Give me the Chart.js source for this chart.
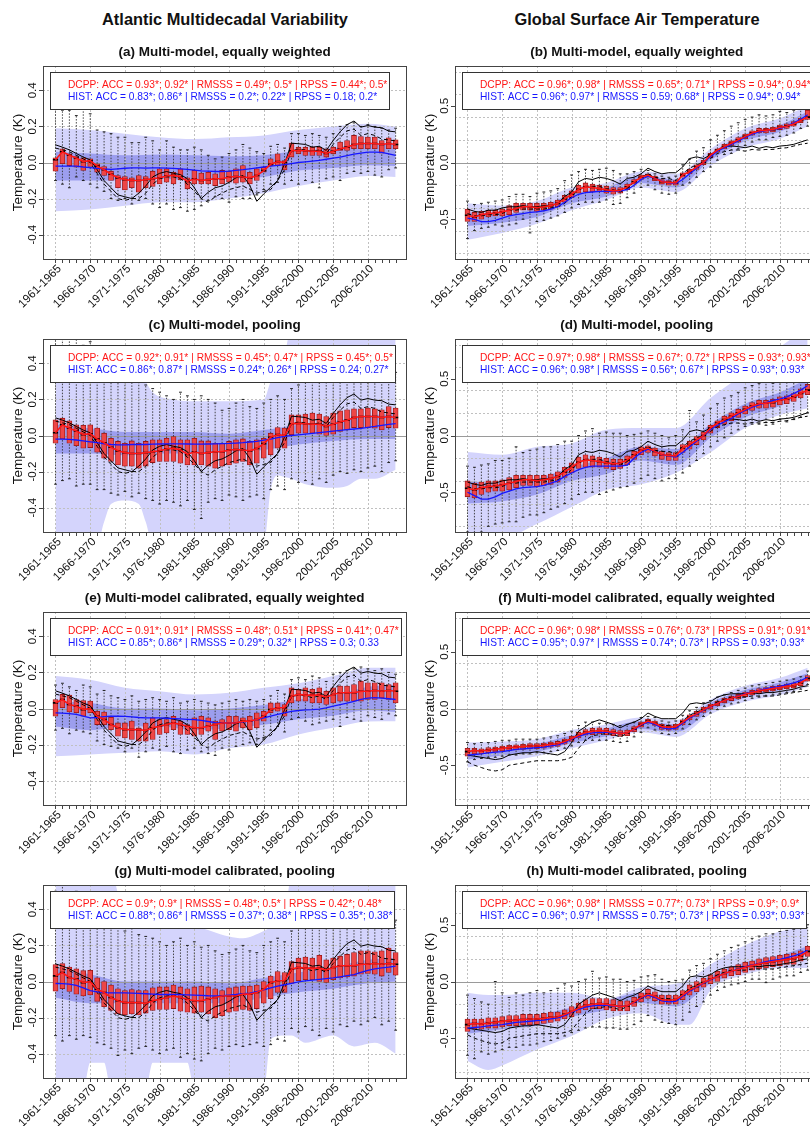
<!DOCTYPE html>
<html>
<head>
<meta charset="utf-8">
<script src="https://cdn.jsdelivr.net/npm/chart.js"></script>
<style>
  html, body { margin: 0; padding: 0; background: #fff; }
  body { width: 810px; height: 1126px; overflow: hidden; position: relative;
         font-family: 'Liberation Sans', Arial, Helvetica, sans-serif; }
  .hdr { position: absolute; top: 9px; width: 364px; text-align: center;
         font-weight: bold; font-size: 16.4px; line-height: 20px; color: #111; }
  canvas { position: absolute; }
</style>
</head>
<body>
<div class="hdr" style="left:43px">Atlantic Multidecadal Variability</div>
<div class="hdr" style="left:455px">Global Surface Air Temperature</div>

<canvas id="pa" width="412" height="280" style="left:0px;top:30px"></canvas>
<canvas id="pb" width="412" height="280" style="left:412px;top:30px"></canvas>
<canvas id="pc" width="412" height="280" style="left:0px;top:303px"></canvas>
<canvas id="pd" width="412" height="280" style="left:412px;top:303px"></canvas>
<canvas id="pe" width="412" height="280" style="left:0px;top:576px"></canvas>
<canvas id="pf" width="412" height="280" style="left:412px;top:576px"></canvas>
<canvas id="pg" width="412" height="280" style="left:0px;top:849px"></canvas>
<canvas id="ph" width="412" height="280" style="left:412px;top:849px"></canvas>

<script>
// ---------------------------------------------------------------------------
// Forecast periods (5-year means) and axis labels
// ---------------------------------------------------------------------------
const startYears = [1961, 1962, 1963, 1964, 1965, 1966, 1967, 1968, 1969, 1970,
  1971, 1972, 1973, 1974, 1975, 1976, 1977, 1978, 1979, 1980,
  1981, 1982, 1983, 1984, 1985, 1986, 1987, 1988, 1989, 1990,
  1991, 1992, 1993, 1994, 1995, 1996, 1997, 1998, 1999, 2000,
  2001, 2002, 2003, 2004, 2005, 2006, 2007, 2008, 2009, 2010];
const xTickIdx = [0, 5, 10, 15, 20, 25, 30, 35, 40, 45];
const xTickLabels = ['1961-1965', '1966-1970', '1971-1975', '1976-1980', '1981-1985',
  '1986-1990', '1991-1995', '1996-2000', '2001-2005', '2006-2010'];

const amvTickValues = [-0.4, -0.2, 0.0, 0.2, 0.4];
const amvTickLabels = ['-0.4', '-0.2', '0.0', '0.2', '0.4'];
const amvGrid = [-0.4, -0.2, 0.2, 0.4];
const gsatTickValues = [-0.5, 0.0, 0.5];
const gsatTickLabels = ['-0.5', '0.0', '0.5'];
const gsatGrid = [-0.8, -0.6, -0.4, -0.2, 0.2, 0.4, 0.6, 0.8];

// ---------------------------------------------------------------------------
// Atlantic Multidecadal Variability (K)
// ---------------------------------------------------------------------------
const amvObs1 = [0.098, 0.085, 0.07, 0.05, 0.03, 0.015, -0.04, -0.1, -0.14, -0.18,
  -0.19, -0.2, -0.17, -0.13, -0.08, -0.06, -0.05, -0.06, -0.067, -0.09,
  -0.14, -0.2, -0.165, -0.14, -0.13, -0.11, -0.085, -0.072, -0.128, -0.215,
  -0.174, -0.137, -0.1, -0.007, 0.107, 0.104, 0.1, 0.085, 0.09, 0.067,
  0.122, 0.17, 0.21, 0.23, 0.196, 0.205, 0.196, 0.193, 0.174, 0.17];
const amvObs2 = [0.08, 0.07, 0.06, 0.04, 0.02, 0.0, -0.06, -0.12, -0.16, -0.2,
  -0.21, -0.2, -0.2, -0.17, -0.12, -0.09, -0.08, -0.08, -0.09, -0.12,
  -0.16, -0.2, -0.22, -0.19, -0.17, -0.15, -0.14, -0.13, -0.15, -0.17,
  -0.16, -0.15, -0.1, -0.04, 0.065, 0.075, 0.07, 0.06, 0.07, 0.05,
  0.1, 0.14, 0.175, 0.185, 0.15, 0.16, 0.15, 0.13, 0.125, 0.12];

const amvDcpp = [0.015, 0.06, 0.04, 0.025, 0.005, 0.01, -0.02, -0.04, -0.065, -0.085,
  -0.095, -0.1, -0.1, -0.095, -0.09, -0.085, -0.075, -0.07, -0.08, -0.105,
  -0.09, -0.1, -0.095, -0.09, -0.09, -0.08, -0.078, -0.08, -0.085, -0.072,
  -0.045, -0.01, 0.005, 0.0, 0.065, 0.067, 0.065, 0.062, 0.062, 0.05,
  0.062, 0.075, 0.085, 0.1, 0.105, 0.105, 0.105, 0.1, 0.105, 0.1];
const amvDcppCal = [0.031, 0.05, 0.022, 0.013, -0.006, 0.0, -0.043, -0.061, -0.089, -0.107,
  -0.117, -0.117, -0.117, -0.122, -0.107, -0.098, -0.089, -0.08, -0.089, -0.098,
  -0.107, -0.107, -0.098, -0.089, -0.08, -0.08, -0.08, -0.07, -0.07, -0.061,
  -0.043, -0.006, 0.004, 0.004, 0.068, 0.078, 0.074, 0.074, 0.074, 0.063,
  0.078, 0.087, 0.087, 0.087, 0.096, 0.096, 0.1, 0.096, 0.1, 0.096];

// (a) multi-model, equally weighted
const aHist = [-0.02, -0.02, -0.02, -0.02, -0.025, -0.028, -0.032, -0.036, -0.038, -0.035,
  -0.032, -0.03, -0.03, -0.031, -0.03, -0.03, -0.031, -0.033, -0.035, -0.038,
  -0.042, -0.046, -0.048, -0.05, -0.05, -0.048, -0.044, -0.04, -0.035, -0.03,
  -0.025, -0.02, -0.016, -0.012, -0.006, 0.0, 0.004, 0.008, 0.012, 0.018,
  0.024, 0.03, 0.038, 0.046, 0.052, 0.057, 0.058, 0.056, 0.048, 0.04];
const aQ3 = [0.026, 0.076, 0.048, 0.033, 0.026, 0.02, -0.007, -0.022, -0.048, -0.072,
  -0.078, -0.085, -0.072, -0.078, -0.048, -0.035, -0.035, -0.054, -0.035, -0.085,
  -0.044, -0.059, -0.054, -0.063, -0.044, -0.048, -0.035, -0.017, -0.054, -0.035,
  -0.026, 0.02, 0.048, 0.011, 0.107, 0.085, 0.085, 0.085, 0.085, 0.076,
  0.085, 0.113, 0.122, 0.15, 0.144, 0.141, 0.141, 0.122, 0.137, 0.126];
const aQ1 = [-0.048, -0.007, -0.017, -0.026, -0.044, -0.022, -0.054, -0.072, -0.1, -0.14,
  -0.152, -0.14, -0.165, -0.14, -0.133, -0.119, -0.109, -0.119, -0.096, -0.146,
  -0.119, -0.119, -0.119, -0.128, -0.119, -0.109, -0.115, -0.109, -0.119, -0.1,
  -0.054, -0.017, -0.017, -0.041, 0.03, 0.048, 0.039, 0.039, 0.039, 0.03,
  0.048, 0.067, 0.067, 0.076, 0.076, 0.076, 0.076, 0.052, 0.076, 0.076];
const aHi = [0.3, 0.29, 0.29, 0.26, 0.3, 0.27, 0.18, 0.17, 0.16, 0.14,
  0.14, 0.11, 0.11, 0.14, 0.12, 0.07, 0.12, 0.085, 0.07, 0.07,
  0.085, 0.07, 0.04, 0.02, 0.03, 0.05, 0.07, 0.1, 0.08, 0.06,
  0.05, 0.09, 0.1, 0.08, 0.16, 0.16, 0.15, 0.16, 0.15, 0.14,
  0.16, 0.2, 0.21, 0.22, 0.2, 0.21, 0.2, 0.19, 0.18, 0.19];
const aLo = [-0.1, -0.12, -0.14, -0.08, -0.1, -0.12, -0.14, -0.16, -0.2, -0.21,
  -0.2, -0.23, -0.21, -0.2, -0.23, -0.25, -0.23, -0.26, -0.25, -0.27,
  -0.26, -0.24, -0.21, -0.19, -0.2, -0.22, -0.19, -0.2, -0.2, -0.18,
  -0.15, -0.12, -0.11, -0.12, -0.1, -0.12, -0.1, -0.11, -0.14, -0.09,
  -0.08, -0.1, -0.06, -0.05, -0.06, -0.05, -0.07, -0.08, -0.04, -0.03];
const bandIdx = [0, 5, 10, 15, 20, 25, 30, 35, 40, 45, 49];
const aOuterHi = [0.19, 0.18, 0.16, 0.14, 0.13, 0.14, 0.15, 0.18, 0.2, 0.215, 0.2];
const aOuterLo = [-0.27, -0.26, -0.24, -0.22, -0.22, -0.2, -0.17, -0.13, -0.1, -0.075, -0.08];
const aInnerHi = [0.06, 0.05, 0.04, 0.045, 0.04, 0.035, 0.04, 0.065, 0.08, 0.11, 0.1];
const aInnerLo = [-0.1, -0.1, -0.1, -0.09, -0.1, -0.09, -0.08, -0.045, -0.03, -0.015, -0.02];

// (c) multi-model, pooling
const cHist = [-0.02, -0.02, -0.022, -0.025, -0.03, -0.035, -0.04, -0.046, -0.05, -0.052,
  -0.052, -0.05, -0.05, -0.05, -0.048, -0.047, -0.046, -0.046, -0.046, -0.047,
  -0.048, -0.048, -0.047, -0.046, -0.045, -0.044, -0.042, -0.04, -0.036, -0.032,
  -0.026, -0.02, -0.012, -0.005, 0.0, 0.004, 0.008, 0.012, 0.016, 0.02,
  0.024, 0.028, 0.032, 0.036, 0.04, 0.045, 0.05, 0.056, 0.062, 0.066];
const cQ3 = [0.087, 0.096, 0.081, 0.059, 0.056, 0.059, 0.041, 0.013, -0.015, -0.033,
  -0.043, -0.03, -0.043, -0.033, -0.024, -0.024, -0.015, -0.006, -0.024, -0.024,
  -0.015, -0.03, -0.03, -0.043, -0.043, -0.033, -0.024, -0.019, -0.033, -0.024,
  -0.015, 0.013, 0.044, 0.041, 0.115, 0.115, 0.119, 0.124, 0.119, 0.105,
  0.124, 0.137, 0.143, 0.148, 0.148, 0.152, 0.148, 0.143, 0.161, 0.152];
const cQ1 = [-0.043, -0.019, -0.043, -0.056, -0.07, -0.067, -0.093, -0.126, -0.144, -0.163,
  -0.17, -0.17, -0.181, -0.17, -0.15, -0.144, -0.144, -0.144, -0.154, -0.163,
  -0.163, -0.163, -0.17, -0.181, -0.17, -0.163, -0.154, -0.144, -0.163, -0.154,
  -0.126, -0.107, -0.07, -0.07, 0.004, 0.013, 0.013, 0.013, 0.007, 0.0,
  0.007, 0.022, 0.031, 0.044, 0.044, 0.044, 0.041, 0.031, 0.044, 0.041];
const cHi = [0.56, 0.58, 0.55, 0.56, 0.5, 0.52, 0.45, 0.4, 0.38, 0.32,
  0.3, 0.32, 0.3, 0.28, 0.26, 0.24, 0.22, 0.2, 0.24, 0.22,
  0.2, 0.22, 0.2, 0.18, 0.14, 0.15, 0.18, 0.2, 0.16, 0.15,
  0.18, 0.2, 0.22, 0.2, 0.26, 0.28, 0.3, 0.3, 0.34, 0.32,
  0.35, 0.38, 0.4, 0.44, 0.45, 0.42, 0.4, 0.42, 0.38, 0.35];
const cLo = [-0.27, -0.25, -0.24, -0.28, -0.27, -0.27, -0.3, -0.3, -0.32, -0.33,
  -0.31, -0.34, -0.32, -0.35, -0.36, -0.38, -0.36, -0.37, -0.39, -0.36,
  -0.41, -0.46, -0.37, -0.35, -0.36, -0.33, -0.34, -0.36, -0.34, -0.33,
  -0.35, -0.3, -0.28, -0.3, -0.24, -0.26, -0.25, -0.27, -0.24, -0.26,
  -0.22, -0.2, -0.21, -0.19, -0.2, -0.18, -0.17, -0.2, -0.15, -0.14];
const cOuterIdx = [0, 6, 7, 8, 10, 12, 13, 14, 17, 20, 25, 30, 31, 32, 33, 34, 36, 40, 42, 44, 46, 49];
const cOuterHi = [0.4, 0.4, 0.4, 0.4, 0.39, 0.38, 0.3, 0.24, 0.2, 0.19, 0.19, 0.2,
  0.3, 0.36, 0.45, 0.6, 0.6, 0.6, 0.6, 0.6, 0.6, 0.6];
const cOuterLo = [-0.6, -0.6, -0.48, -0.38, -0.36, -0.38, -0.48, -0.6, -0.6, -0.6, -0.6, -0.6,
  -0.3, -0.22, -0.23, -0.24, -0.27, -0.29, -0.28, -0.24, -0.24, -0.19];
const cInnerHi = [0.06, 0.04, 0.02, 0.02, 0.02, 0.01, 0.03, 0.06, 0.08, 0.11, 0.12];
const cInnerLo = [-0.1, -0.1, -0.11, -0.1, -0.1, -0.09, -0.08, -0.05, -0.03, -0.02, -0.02];

// (e) multi-model calibrated, equally weighted
const eHist = [-0.024, -0.026, -0.028, -0.033, -0.042, -0.052, -0.05, -0.045, -0.043, -0.043,
  -0.044, -0.046, -0.05, -0.052, -0.052, -0.052, -0.054, -0.056, -0.058, -0.06,
  -0.062, -0.066, -0.072, -0.078, -0.08, -0.08, -0.078, -0.074, -0.07, -0.062,
  -0.052, -0.042, -0.032, -0.024, -0.016, -0.011, -0.008, -0.006, -0.003, 0.004,
  0.013, 0.022, 0.03, 0.04, 0.05, 0.058, 0.06, 0.058, 0.054, 0.05];
const eQ3 = [0.05, 0.078, 0.074, 0.05, 0.044, 0.041, -0.015, -0.02, -0.048, -0.08,
  -0.08, -0.07, -0.107, -0.081, -0.052, -0.061, -0.061, -0.043, -0.07, -0.089,
  -0.052, -0.043, -0.052, -0.07, -0.061, -0.043, -0.043, -0.052, -0.043, -0.024,
  -0.015, 0.031, 0.031, 0.022, 0.115, 0.106, 0.115, 0.106, 0.115, 0.096,
  0.115, 0.124, 0.124, 0.133, 0.152, 0.143, 0.143, 0.143, 0.133, 0.143];
const eQ1 = [-0.043, 0.004, -0.019, -0.024, -0.043, -0.024, -0.089, -0.09, -0.117, -0.154,
  -0.163, -0.172, -0.181, -0.181, -0.172, -0.144, -0.135, -0.117, -0.144, -0.144,
  -0.154, -0.144, -0.126, -0.172, -0.126, -0.117, -0.126, -0.107, -0.117, -0.107,
  -0.07, -0.024, -0.015, -0.043, 0.031, 0.041, 0.041, 0.031, 0.031, 0.022,
  0.031, 0.041, 0.041, 0.041, 0.041, 0.05, 0.05, 0.059, 0.05, 0.031];
const eHi = [0.13, 0.14, 0.12, 0.1, 0.13, 0.12, 0.08, 0.1, 0.07, 0.06,
  0.05, 0.07, 0.04, 0.05, 0.06, 0.05, 0.04, 0.06, 0.03, 0.04,
  0.05, 0.04, 0.03, 0.02, 0.03, 0.04, 0.05, 0.04, 0.05, 0.04,
  0.05, 0.07, 0.1, 0.08, 0.16, 0.17, 0.16, 0.18, 0.17, 0.15,
  0.19, 0.2, 0.21, 0.22, 0.23, 0.22, 0.21, 0.22, 0.2, 0.19];
const eLo = [-0.12, -0.11, -0.14, -0.12, -0.13, -0.14, -0.18, -0.2, -0.21, -0.22,
  -0.24, -0.22, -0.27, -0.24, -0.22, -0.23, -0.21, -0.24, -0.25, -0.23,
  -0.22, -0.24, -0.25, -0.26, -0.22, -0.23, -0.21, -0.2, -0.19, -0.2,
  -0.17, -0.12, -0.1, -0.13, -0.06, -0.05, -0.07, -0.09, -0.08, -0.07,
  -0.06, -0.1, -0.05, -0.06, -0.07, -0.04, -0.05, -0.06, -0.03, -0.04];
const eOuterHi = [0.18, 0.16, 0.115, 0.096, 0.078, 0.087, 0.115, 0.14, 0.18, 0.226, 0.226];
const eOuterLo = [-0.265, -0.255, -0.246, -0.237, -0.255, -0.22, -0.2, -0.144, -0.107, -0.072, -0.07];
const eInnerHi = [0.04, 0.03, 0.0, 0.0, -0.01, 0.0, 0.02, 0.05, 0.07, 0.12, 0.13];
const eInnerLo = [-0.1, -0.12, -0.1, -0.1, -0.12, -0.11, -0.09, -0.06, -0.04, -0.01, -0.02];

// (g) multi-model calibrated, pooling
const gHist = [-0.011, -0.012, -0.015, -0.022, -0.035, -0.05, -0.058, -0.062, -0.063, -0.063,
  -0.063, -0.064, -0.066, -0.068, -0.07, -0.072, -0.072, -0.072, -0.073, -0.074,
  -0.075, -0.077, -0.079, -0.08, -0.078, -0.075, -0.072, -0.068, -0.064, -0.056,
  -0.046, -0.036, -0.026, -0.018, -0.01, -0.002, 0.004, 0.008, 0.012, 0.016,
  0.02, 0.026, 0.032, 0.038, 0.05, 0.062, 0.07, 0.076, 0.08, 0.085];
const gQ3 = [0.094, 0.1, 0.08, 0.07, 0.06, 0.062, 0.02, 0.0, -0.02, -0.04,
  -0.05, -0.045, -0.05, -0.05, -0.035, -0.03, -0.03, -0.02, -0.03, -0.04,
  -0.03, -0.025, -0.03, -0.04, -0.05, -0.035, -0.03, -0.025, -0.025, -0.02,
  0.0, 0.03, 0.055, 0.05, 0.11, 0.13, 0.135, 0.13, 0.145, 0.12,
  0.13, 0.14, 0.15, 0.16, 0.17, 0.17, 0.165, 0.17, 0.185, 0.16];
const gQ1 = [-0.054, -0.04, -0.055, -0.07, -0.08, -0.075, -0.11, -0.14, -0.16, -0.18,
  -0.185, -0.18, -0.185, -0.175, -0.16, -0.155, -0.155, -0.15, -0.165, -0.17,
  -0.175, -0.17, -0.18, -0.2, -0.19, -0.17, -0.165, -0.155, -0.16, -0.15,
  -0.12, -0.095, -0.06, -0.06, -0.01, 0.005, 0.01, 0.01, 0.0, -0.005,
  0.01, 0.02, 0.025, 0.03, 0.04, 0.045, 0.04, 0.03, 0.05, 0.035];
const gHi = [0.5, 0.55, 0.48, 0.5, 0.45, 0.46, 0.4, 0.36, 0.32, 0.3,
  0.28, 0.3, 0.26, 0.25, 0.24, 0.22, 0.2, 0.22, 0.24, 0.2,
  0.22, 0.19, 0.2, 0.17, 0.15, 0.16, 0.18, 0.2, 0.17, 0.16,
  0.2, 0.22, 0.24, 0.22, 0.28, 0.3, 0.3, 0.32, 0.34, 0.3,
  0.33, 0.36, 0.38, 0.42, 0.43, 0.4, 0.38, 0.4, 0.38, 0.34];
const gLo = [-0.3, -0.33, -0.3, -0.32, -0.3, -0.31, -0.34, -0.35, -0.37, -0.41,
  -0.38, -0.4, -0.37, -0.36, -0.38, -0.4, -0.38, -0.37, -0.42, -0.4,
  -0.43, -0.44, -0.4, -0.37, -0.38, -0.36, -0.35, -0.36, -0.35, -0.34,
  -0.36, -0.35, -0.32, -0.33, -0.26, -0.28, -0.25, -0.27, -0.3, -0.26,
  -0.28, -0.24, -0.25, -0.22, -0.24, -0.22, -0.2, -0.24, -0.22, -0.27];
const gOuterIdx = [0, 4, 5, 7, 8, 10, 13, 14, 19, 20, 25, 27, 30, 31, 33, 34, 36, 40, 43, 46, 49];
const gOuterHi = [0.6, 0.6, 0.6, 0.6, 0.6, 0.35, 0.32, 0.31, 0.3, 0.3, 0.25,
  0.24, 0.28, 0.3, 0.35, 0.6, 0.6, 0.6, 0.6, 0.6, 0.6];
const gOuterLo = [-0.6, -0.6, -0.45, -0.45, -0.6, -0.6, -0.6, -0.45, -0.45, -0.6, -0.6,
  -0.6, -0.6, -0.32, -0.3, -0.3, -0.34, -0.3, -0.36, -0.34, -0.4];
const gInnerHi = [0.07, 0.04, 0.0, 0.0, 0.0, -0.01, 0.02, 0.05, 0.08, 0.12, 0.13];
const gInnerLo = [-0.09, -0.12, -0.12, -0.12, -0.12, -0.12, -0.09, -0.06, -0.04, -0.01, 0.0];

// ---------------------------------------------------------------------------
// Global Surface Air Temperature (K)
// ---------------------------------------------------------------------------
const gsatObs1 = [-0.41, -0.43, -0.44, -0.42, -0.42, -0.4, -0.39, -0.39, -0.38, -0.39,
  -0.39, -0.38, -0.38, -0.36, -0.3, -0.26, -0.17, -0.14, -0.15, -0.13,
  -0.14, -0.16, -0.19, -0.14, -0.13, -0.1, -0.05, -0.08, -0.1, -0.09,
  -0.09, -0.04, 0.035, 0.05, 0.035, 0.065, 0.11, 0.14, 0.145, 0.14,
  0.13, 0.145, 0.125, 0.14, 0.13, 0.145, 0.15, 0.16, 0.18, 0.2];
const gsatObs2 = [-0.45, -0.47, -0.47, -0.46, -0.46, -0.45, -0.42, -0.42, -0.41, -0.41,
  -0.41, -0.41, -0.4, -0.39, -0.36, -0.3, -0.24, -0.21, -0.21, -0.21,
  -0.23, -0.24, -0.26, -0.23, -0.17, -0.13, -0.1, -0.13, -0.14, -0.14,
  -0.16, -0.1, -0.05, -0.02, 0.0, 0.035, 0.08, 0.095, 0.11, 0.11,
  0.1, 0.115, 0.11, 0.115, 0.115, 0.125, 0.13, 0.145, 0.16, 0.17];
const gsatObsCal1 = [-0.41, -0.42, -0.43, -0.44, -0.45, -0.44, -0.41, -0.4, -0.39, -0.39,
  -0.38, -0.39, -0.4, -0.41, -0.38, -0.3, -0.2, -0.16, -0.12, -0.1,
  -0.12, -0.14, -0.17, -0.14, -0.12, -0.09, -0.04, -0.07, -0.09, -0.09,
  -0.09, -0.04, 0.04, 0.05, 0.04, 0.06, 0.1, 0.12, 0.13, 0.13,
  0.13, 0.14, 0.13, 0.14, 0.14, 0.15, 0.16, 0.17, 0.19, 0.2];
const gsatObsCal2 = [-0.47, -0.5, -0.52, -0.54, -0.55, -0.54, -0.5, -0.49, -0.48, -0.47,
  -0.46, -0.46, -0.46, -0.46, -0.45, -0.43, -0.35, -0.28, -0.24, -0.23,
  -0.22, -0.23, -0.25, -0.22, -0.18, -0.15, -0.12, -0.14, -0.15, -0.15,
  -0.16, -0.11, -0.06, -0.03, -0.01, 0.02, 0.06, 0.08, 0.1, 0.1,
  0.1, 0.11, 0.11, 0.11, 0.11, 0.12, 0.13, 0.14, 0.15, 0.16];

const gsatDcpp = [-0.465, -0.48, -0.46, -0.45, -0.445, -0.435, -0.42, -0.405, -0.39, -0.39,
  -0.4, -0.39, -0.38, -0.36, -0.32, -0.28, -0.235, -0.215, -0.22, -0.23,
  -0.24, -0.25, -0.245, -0.215, -0.17, -0.13, -0.11, -0.14, -0.17, -0.175,
  -0.18, -0.11, -0.08, -0.04, 0.0, 0.065, 0.11, 0.14, 0.17, 0.2,
  0.23, 0.26, 0.28, 0.285, 0.29, 0.31, 0.32, 0.34, 0.37, 0.4];
const gsatDcppCal = [-0.38, -0.37, -0.375, -0.365, -0.36, -0.35, -0.345, -0.34, -0.335, -0.33,
  -0.33, -0.325, -0.315, -0.31, -0.29, -0.265, -0.235, -0.21, -0.2, -0.195,
  -0.2, -0.21, -0.22, -0.215, -0.18, -0.14, -0.11, -0.13, -0.16, -0.165,
  -0.16, -0.12, -0.075, -0.045, -0.01, 0.02, 0.045, 0.07, 0.09, 0.105,
  0.125, 0.14, 0.155, 0.165, 0.175, 0.185, 0.195, 0.2, 0.225, 0.265];
const gsatHistCal = [-0.41, -0.405, -0.4, -0.39, -0.385, -0.38, -0.37, -0.36, -0.355, -0.35,
  -0.345, -0.34, -0.33, -0.32, -0.3, -0.27, -0.245, -0.225, -0.215, -0.21,
  -0.21, -0.215, -0.22, -0.215, -0.185, -0.145, -0.12, -0.14, -0.17, -0.18,
  -0.175, -0.13, -0.085, -0.05, -0.015, 0.015, 0.045, 0.07, 0.09, 0.11,
  0.13, 0.145, 0.16, 0.175, 0.185, 0.195, 0.21, 0.225, 0.245, 0.275];

// (b) multi-model, equally weighted
const bHist = [-0.49, -0.5, -0.52, -0.52, -0.51, -0.49, -0.47, -0.46, -0.45, -0.44,
  -0.435, -0.425, -0.41, -0.39, -0.35, -0.31, -0.28, -0.265, -0.26, -0.255,
  -0.255, -0.255, -0.25, -0.24, -0.2, -0.15, -0.12, -0.14, -0.165, -0.18,
  -0.185, -0.15, -0.1, -0.05, 0.0, 0.05, 0.1, 0.13, 0.16, 0.19,
  0.22, 0.25, 0.27, 0.28, 0.29, 0.3, 0.32, 0.35, 0.38, 0.42];
const bQ3 = [-0.41, -0.44, -0.43, -0.42, -0.42, -0.41, -0.38, -0.36, -0.36, -0.36,
  -0.36, -0.36, -0.35, -0.33, -0.29, -0.25, -0.2, -0.18, -0.19, -0.2,
  -0.21, -0.22, -0.22, -0.19, -0.15, -0.11, -0.1, -0.12, -0.15, -0.16,
  -0.16, -0.09, -0.06, -0.02, 0.02, 0.08, 0.12, 0.16, 0.19, 0.22,
  0.25, 0.28, 0.3, 0.3, 0.31, 0.33, 0.34, 0.36, 0.39, 0.46];
const bQ1 = [-0.52, -0.52, -0.5, -0.48, -0.47, -0.47, -0.46, -0.44, -0.42, -0.42,
  -0.43, -0.42, -0.41, -0.39, -0.35, -0.31, -0.27, -0.26, -0.26, -0.26,
  -0.27, -0.28, -0.27, -0.24, -0.19, -0.15, -0.13, -0.16, -0.19, -0.2,
  -0.2, -0.13, -0.1, -0.06, -0.02, 0.04, 0.09, 0.12, 0.15, 0.18,
  0.21, 0.24, 0.26, 0.26, 0.27, 0.29, 0.3, 0.32, 0.35, 0.38];
const bHi = [-0.34, -0.37, -0.36, -0.35, -0.34, -0.33, -0.3, -0.28, -0.28, -0.3,
  -0.27, -0.26, -0.25, -0.23, -0.16, -0.11, -0.08, -0.06, -0.07, -0.06,
  -0.05, -0.07, -0.1, -0.1, -0.08, -0.06, -0.07, -0.1, -0.12, -0.13,
  -0.12, -0.02, 0.03, 0.1, 0.13, 0.2, 0.24, 0.28, 0.32, 0.35,
  0.38, 0.4, 0.42, 0.41, 0.42, 0.45, 0.44, 0.46, 0.48, 0.52];
const bLo = [-0.67, -0.6, -0.58, -0.57, -0.55, -0.56, -0.55, -0.54, -0.5, -0.62,
  -0.52, -0.51, -0.49, -0.47, -0.44, -0.4, -0.37, -0.35, -0.35, -0.35,
  -0.33, -0.37, -0.36, -0.31, -0.27, -0.22, -0.2, -0.24, -0.27, -0.28,
  -0.27, -0.2, -0.18, -0.13, -0.08, -0.04, 0.02, 0.07, 0.08, 0.12,
  0.15, 0.18, 0.2, 0.2, 0.22, 0.23, 0.24, 0.26, 0.3, 0.32];
const bOuterHi = [-0.36, -0.38, -0.34, -0.22, -0.18, -0.08, -0.1, 0.12, 0.3, 0.39, 0.5];
const bOuterLo = [-0.68, -0.62, -0.54, -0.42, -0.33, -0.22, -0.26, -0.03, 0.13, 0.21, 0.32];
const bInnerHi = [-0.44, -0.45, -0.4, -0.28, -0.22, -0.12, -0.15, 0.08, 0.25, 0.33, 0.45];
const bInnerLo = [-0.56, -0.53, -0.48, -0.36, -0.3, -0.18, -0.22, 0.02, 0.19, 0.27, 0.38];

// (d) multi-model, pooling
const dHist = [-0.5, -0.53, -0.56, -0.56, -0.54, -0.51, -0.49, -0.47, -0.46, -0.455,
  -0.45, -0.44, -0.42, -0.4, -0.36, -0.33, -0.3, -0.28, -0.27, -0.27,
  -0.27, -0.27, -0.27, -0.26, -0.2, -0.15, -0.12, -0.14, -0.17, -0.18,
  -0.19, -0.15, -0.1, -0.05, 0.0, 0.05, 0.09, 0.12, 0.15, 0.19,
  0.22, 0.25, 0.27, 0.29, 0.31, 0.32, 0.34, 0.37, 0.4, 0.44];
const dQ3 = [-0.4, -0.42, -0.41, -0.4, -0.4, -0.39, -0.37, -0.35, -0.35, -0.35,
  -0.35, -0.35, -0.34, -0.32, -0.28, -0.24, -0.19, -0.17, -0.18, -0.19,
  -0.2, -0.21, -0.21, -0.18, -0.14, -0.1, -0.09, -0.11, -0.14, -0.15,
  -0.15, -0.08, -0.05, -0.01, 0.03, 0.09, 0.13, 0.17, 0.2, 0.23,
  0.26, 0.29, 0.31, 0.31, 0.32, 0.34, 0.35, 0.37, 0.41, 0.45];
const dQ1 = [-0.54, -0.55, -0.52, -0.5, -0.49, -0.49, -0.48, -0.46, -0.44, -0.44,
  -0.45, -0.44, -0.43, -0.41, -0.37, -0.33, -0.29, -0.28, -0.28, -0.28,
  -0.29, -0.3, -0.29, -0.26, -0.21, -0.17, -0.15, -0.18, -0.21, -0.22,
  -0.22, -0.15, -0.12, -0.08, -0.04, 0.02, 0.07, 0.1, 0.13, 0.16,
  0.19, 0.22, 0.24, 0.24, 0.25, 0.27, 0.28, 0.3, 0.33, 0.36];
const dHi = [-0.27, -0.28, -0.26, -0.25, -0.22, -0.22, -0.2, -0.1, -0.15, -0.13,
  -0.12, -0.1, -0.1, -0.08, -0.05, -0.05, 0.0, 0.04, 0.06, 0.02,
  0.03, 0.02, 0.02, 0.0, 0.01, 0.02, 0.04, 0.02, 0.0, -0.02,
  0.0, 0.05, 0.22, 0.12, 0.18, 0.24, 0.28, 0.33, 0.35, 0.38,
  0.42, 0.44, 0.46, 0.48, 0.46, 0.48, 0.5, 0.52, 0.55, 0.58];
const dLo = [-0.85, -0.88, -0.85, -0.8, -0.78, -0.77, -0.76, -0.76, -0.72, -0.7,
  -0.7, -0.68, -0.65, -0.63, -0.6, -0.56, -0.52, -0.5, -0.5, -0.52,
  -0.5, -0.48, -0.46, -0.45, -0.42, -0.38, -0.35, -0.38, -0.4, -0.38,
  -0.38, -0.33, -0.27, -0.22, -0.16, -0.1, -0.05, -0.02, 0.02, 0.05,
  0.08, 0.1, 0.1, 0.09, 0.1, 0.14, 0.12, 0.14, 0.16, 0.2];
const dOuterHi = [-0.145, -0.17, -0.1, -0.07, 0.05, 0.065, 0.065, 0.33, 0.55, 0.78, 0.95];
const dOuterLo = [-0.9, -0.9, -0.78, -0.63, -0.48, -0.43, -0.33, -0.15, 0.065, 0.18, 0.24];
const dInnerHi = [-0.4, -0.42, -0.38, -0.28, -0.2, -0.1, -0.12, 0.1, 0.28, 0.38, 0.5];
const dInnerLo = [-0.6, -0.58, -0.52, -0.4, -0.34, -0.22, -0.26, -0.02, 0.16, 0.26, 0.38];

// (f) multi-model calibrated, equally weighted
const fQ3 = [-0.35, -0.35, -0.355, -0.345, -0.34, -0.33, -0.325, -0.32, -0.315, -0.31,
  -0.31, -0.305, -0.295, -0.29, -0.27, -0.245, -0.21, -0.185, -0.175, -0.17,
  -0.175, -0.185, -0.195, -0.19, -0.16, -0.12, -0.095, -0.11, -0.14, -0.145,
  -0.14, -0.1, -0.055, -0.025, 0.01, 0.04, 0.065, 0.09, 0.11, 0.125,
  0.145, 0.16, 0.175, 0.185, 0.195, 0.205, 0.215, 0.225, 0.245, 0.29];
const fQ1 = [-0.42, -0.4, -0.4, -0.39, -0.385, -0.375, -0.37, -0.365, -0.36, -0.355,
  -0.355, -0.35, -0.34, -0.335, -0.315, -0.29, -0.26, -0.235, -0.23, -0.225,
  -0.23, -0.24, -0.245, -0.24, -0.205, -0.165, -0.13, -0.15, -0.185, -0.19,
  -0.185, -0.145, -0.1, -0.07, -0.035, -0.005, 0.025, 0.05, 0.07, 0.085,
  0.105, 0.12, 0.135, 0.145, 0.155, 0.165, 0.175, 0.18, 0.2, 0.24];
const fHi = [-0.3, -0.31, -0.3, -0.3, -0.29, -0.28, -0.28, -0.27, -0.27, -0.27,
  -0.27, -0.26, -0.25, -0.24, -0.22, -0.2, -0.15, -0.12, -0.12, -0.13,
  -0.13, -0.14, -0.15, -0.14, -0.12, -0.08, -0.07, -0.08, -0.11, -0.12,
  -0.11, -0.06, -0.02, 0.01, 0.05, 0.07, 0.1, 0.12, 0.14, 0.16,
  0.18, 0.2, 0.21, 0.22, 0.23, 0.24, 0.25, 0.26, 0.28, 0.33];
const fLo = [-0.47, -0.45, -0.44, -0.43, -0.43, -0.42, -0.41, -0.41, -0.4, -0.4,
  -0.39, -0.39, -0.38, -0.37, -0.35, -0.33, -0.3, -0.28, -0.28, -0.28,
  -0.28, -0.29, -0.3, -0.29, -0.25, -0.21, -0.17, -0.19, -0.22, -0.23,
  -0.22, -0.18, -0.14, -0.1, -0.07, -0.04, -0.01, 0.02, 0.04, 0.05,
  0.07, 0.09, 0.1, 0.11, 0.12, 0.13, 0.14, 0.15, 0.17, 0.21];
const fOuterHi = [-0.3, -0.29, -0.27, -0.19, -0.14, -0.08, -0.1, 0.08, 0.2, 0.27, 0.36];
const fOuterLo = [-0.52, -0.47, -0.42, -0.35, -0.28, -0.21, -0.25, -0.05, 0.06, 0.12, 0.19];
const fInnerHi = [-0.37, -0.345, -0.31, -0.235, -0.175, -0.11, -0.14, 0.05, 0.165, 0.23, 0.31];
const fInnerLo = [-0.45, -0.415, -0.38, -0.305, -0.245, -0.18, -0.21, -0.02, 0.095, 0.16, 0.24];

// (h) multi-model calibrated, pooling
const hQ3 = [-0.33, -0.33, -0.33, -0.32, -0.32, -0.31, -0.3, -0.3, -0.29, -0.29,
  -0.29, -0.28, -0.27, -0.27, -0.25, -0.22, -0.19, -0.16, -0.15, -0.15,
  -0.15, -0.16, -0.17, -0.17, -0.14, -0.1, -0.07, -0.09, -0.12, -0.12,
  -0.12, -0.08, -0.03, 0.0, 0.03, 0.06, 0.09, 0.11, 0.13, 0.15,
  0.17, 0.18, 0.2, 0.21, 0.22, 0.23, 0.24, 0.25, 0.27, 0.31];
const hQ1 = [-0.44, -0.42, -0.42, -0.41, -0.41, -0.4, -0.39, -0.39, -0.38, -0.38,
  -0.38, -0.37, -0.36, -0.35, -0.33, -0.31, -0.28, -0.25, -0.24, -0.24,
  -0.25, -0.26, -0.26, -0.26, -0.22, -0.18, -0.15, -0.17, -0.2, -0.2,
  -0.2, -0.16, -0.12, -0.09, -0.05, -0.02, 0.0, 0.03, 0.05, 0.06,
  0.08, 0.1, 0.11, 0.12, 0.13, 0.14, 0.15, 0.15, 0.18, 0.22];
const hHi = [-0.12, -0.15, -0.18, -0.2, 0.0, -0.1, -0.14, -0.1, -0.12, -0.1,
  -0.08, -0.1, -0.08, -0.06, -0.02, -0.04, 0.0, 0.02, 0.09, 0.03,
  0.04, 0.02, 0.02, 0.0, 0.01, 0.04, 0.05, 0.06, 0.02, 0.0,
  0.01, 0.02, 0.1, 0.14, 0.16, 0.2, 0.24, 0.27, 0.3, 0.32,
  0.35, 0.38, 0.4, 0.42, 0.42, 0.44, 0.45, 0.46, 0.47, 0.5];
const hLo = [-0.65, -0.68, -0.62, -0.64, -0.62, -0.6, -0.58, -0.58, -0.56, -0.56,
  -0.55, -0.53, -0.52, -0.5, -0.48, -0.45, -0.43, -0.41, -0.4, -0.4,
  -0.41, -0.41, -0.42, -0.42, -0.38, -0.35, -0.3, -0.34, -0.36, -0.37,
  -0.38, -0.34, -0.27, -0.22, -0.18, -0.12, -0.08, -0.05, -0.03, -0.02,
  0.0, 0.02, 0.02, -0.01, 0.02, 0.04, 0.05, 0.05, 0.08, 0.1];
const hOuterIdx = [0, 3, 5, 10, 15, 20, 25, 30, 32, 35, 40, 45, 49];
const hOuterHi = [-0.1, -0.12, -0.12, -0.1, -0.1, -0.15, -0.05, -0.02, 0.02, 0.15, 0.32, 0.44, 0.48];
const hOuterLo = [-0.7, -0.78, -0.74, -0.6, -0.48, -0.33, -0.28, -0.38, -0.38, -0.08, 0.06, 0.12, 0.12];
const hInnerHi = [-0.36, -0.34, -0.3, -0.23, -0.17, -0.1, -0.13, 0.05, 0.17, 0.23, 0.31];
const hInnerLo = [-0.46, -0.42, -0.39, -0.31, -0.25, -0.19, -0.22, -0.02, 0.09, 0.16, 0.24];

// ---------------------------------------------------------------------------
// Panel definitions
// ---------------------------------------------------------------------------
const AMV_RANGE = [-0.535, 0.535];
const GSAT_RANGE = [-0.85, 0.85];

const panels = [
  { id: 'pa', title: '(a) Multi-model, equally weighted',
    dcpp: 'DCPP: ACC = 0.93*; 0.92* | RMSSS = 0.49*; 0.5* | RPSS = 0.44*; 0.5*',
    hist: 'HIST: ACC = 0.83*; 0.86* | RMSSS = 0.2*; 0.22* | RPSS = 0.18; 0.2*',
    range: AMV_RANGE, ticks: amvTickValues, tickLabels: amvTickLabels, grid: amvGrid,
    median: amvDcpp, q1: aQ1, q3: aQ3, lo: aLo, hi: aHi, histLine: aHist,
    obs1: amvObs1, obs2: amvObs2,
    outer: [bandIdx, aOuterHi, aOuterLo], inner: [bandIdx, aInnerHi, aInnerLo] },
  { id: 'pb', title: '(b) Multi-model, equally weighted',
    dcpp: 'DCPP: ACC = 0.96*; 0.98* | RMSSS = 0.65*; 0.71* | RPSS = 0.94*; 0.94*',
    hist: 'HIST: ACC = 0.96*; 0.97* | RMSSS = 0.59; 0.68* | RPSS = 0.94*; 0.94*',
    range: GSAT_RANGE, ticks: gsatTickValues, tickLabels: gsatTickLabels, grid: gsatGrid,
    median: gsatDcpp, q1: bQ1, q3: bQ3, lo: bLo, hi: bHi, histLine: bHist,
    obs1: gsatObs1, obs2: gsatObs2,
    outer: [bandIdx, bOuterHi, bOuterLo], inner: [bandIdx, bInnerHi, bInnerLo] },
  { id: 'pc', title: '(c) Multi-model, pooling',
    dcpp: 'DCPP: ACC = 0.92*; 0.91* | RMSSS = 0.45*; 0.47* | RPSS = 0.45*; 0.5*',
    hist: 'HIST: ACC = 0.86*; 0.87* | RMSSS = 0.24*; 0.26* | RPSS = 0.24; 0.27*',
    range: AMV_RANGE, ticks: amvTickValues, tickLabels: amvTickLabels, grid: amvGrid,
    median: amvDcpp, q1: cQ1, q3: cQ3, lo: cLo, hi: cHi, histLine: cHist,
    obs1: amvObs1, obs2: amvObs2,
    outer: [cOuterIdx, cOuterHi, cOuterLo], inner: [bandIdx, cInnerHi, cInnerLo] },
  { id: 'pd', title: '(d) Multi-model, pooling',
    dcpp: 'DCPP: ACC = 0.97*; 0.98* | RMSSS = 0.67*; 0.72* | RPSS = 0.93*; 0.93*',
    hist: 'HIST: ACC = 0.96*; 0.98* | RMSSS = 0.56*; 0.67* | RPSS = 0.93*; 0.93*',
    range: GSAT_RANGE, ticks: gsatTickValues, tickLabels: gsatTickLabels, grid: gsatGrid,
    median: gsatDcpp, q1: dQ1, q3: dQ3, lo: dLo, hi: dHi, histLine: dHist,
    obs1: gsatObs1, obs2: gsatObs2,
    outer: [bandIdx, dOuterHi, dOuterLo], inner: [bandIdx, dInnerHi, dInnerLo] },
  { id: 'pe', title: '(e) Multi-model calibrated, equally weighted',
    dcpp: 'DCPP: ACC = 0.91*; 0.91* | RMSSS = 0.48*; 0.51* | RPSS = 0.41*; 0.47*',
    hist: 'HIST: ACC = 0.85*; 0.86* | RMSSS = 0.29*; 0.32* | RPSS = 0.3; 0.33',
    range: AMV_RANGE, ticks: amvTickValues, tickLabels: amvTickLabels, grid: amvGrid,
    median: amvDcppCal, q1: eQ1, q3: eQ3, lo: eLo, hi: eHi, histLine: eHist,
    obs1: amvObs1, obs2: amvObs2,
    outer: [bandIdx, eOuterHi, eOuterLo], inner: [bandIdx, eInnerHi, eInnerLo] },
  { id: 'pf', title: '(f) Multi-model calibrated, equally weighted',
    dcpp: 'DCPP: ACC = 0.96*; 0.98* | RMSSS = 0.76*; 0.73* | RPSS = 0.91*; 0.91*',
    hist: 'HIST: ACC = 0.95*; 0.97* | RMSSS = 0.74*; 0.73* | RPSS = 0.93*; 0.93*',
    range: GSAT_RANGE, ticks: gsatTickValues, tickLabels: gsatTickLabels, grid: gsatGrid,
    median: gsatDcppCal, q1: fQ1, q3: fQ3, lo: fLo, hi: fHi, histLine: gsatHistCal,
    obs1: gsatObsCal1, obs2: gsatObsCal2,
    outer: [bandIdx, fOuterHi, fOuterLo], inner: [bandIdx, fInnerHi, fInnerLo] },
  { id: 'pg', title: '(g) Multi-model calibrated, pooling',
    dcpp: 'DCPP: ACC = 0.9*; 0.9* | RMSSS = 0.48*; 0.5* | RPSS = 0.42*; 0.48*',
    hist: 'HIST: ACC = 0.88*; 0.86* | RMSSS = 0.37*; 0.38* | RPSS = 0.35*; 0.38*',
    range: AMV_RANGE, ticks: amvTickValues, tickLabels: amvTickLabels, grid: amvGrid,
    median: amvDcppCal, q1: gQ1, q3: gQ3, lo: gLo, hi: gHi, histLine: gHist,
    obs1: amvObs1, obs2: amvObs2,
    outer: [gOuterIdx, gOuterHi, gOuterLo], inner: [bandIdx, gInnerHi, gInnerLo] },
  { id: 'ph', title: '(h) Multi-model calibrated, pooling',
    dcpp: 'DCPP: ACC = 0.96*; 0.98* | RMSSS = 0.77*; 0.73* | RPSS = 0.9*; 0.9*',
    hist: 'HIST: ACC = 0.96*; 0.97* | RMSSS = 0.75*; 0.73* | RPSS = 0.93*; 0.93*',
    range: GSAT_RANGE, ticks: gsatTickValues, tickLabels: gsatTickLabels, grid: gsatGrid,
    median: gsatDcppCal, q1: hQ1, q3: hQ3, lo: hLo, hi: hHi, histLine: gsatHistCal,
    obs1: gsatObsCal1, obs2: gsatObsCal2,
    outer: [hOuterIdx, hOuterHi, hOuterLo], inner: [bandIdx, hInnerHi, hInnerLo] }
];

// ---------------------------------------------------------------------------
// Styling
// ---------------------------------------------------------------------------
const FONT = "'Liberation Sans', Arial, Helvetica, sans-serif";
const OUTER_FILL = 'rgb(212, 212, 252)';
const INNER_FILL = 'rgb(156, 158, 238)';
const BOX_FILL = 'rgb(238, 70, 70)';
const BOX_EDGE = 'rgb(150, 20, 20)';
const RED = 'rgb(255, 22, 22)';
const BLUE = 'rgb(22, 22, 255)';
const X_MIN = -1.8, X_MAX = 50.55;

const series = vals => vals.map((y, i) => ({ x: i, y }));
const band = (idx, vals) => idx.map((k, j) => ({ x: k, y: vals[j] }));

function buildDatasets(p) {
  const n = startYears.length;
  const whiskers = [], caps = [], boxes = [];
  for (let i = 0; i < n; i++) {
    whiskers.push({ x: i, y: p.lo[i] }, { x: i, y: p.q1[i] }, { x: i, y: null },
                  { x: i, y: p.q3[i] }, { x: i, y: p.hi[i] }, { x: i, y: null });
    caps.push({ x: i, y: p.lo[i] }, { x: i, y: p.hi[i] });
    boxes.push({ x: i, y: [p.q1[i], p.q3[i]] });
  }
  const bandLine = (data, fill, color, order) => ({
    type: 'line', data, fill, backgroundColor: color, borderColor: 'rgba(0,0,0,0)',
    borderWidth: 0, pointRadius: 0, cubicInterpolationMode: 'monotone', order
  });
  return [
    bandLine(band(p.outer[0], p.outer[1]), '+1', OUTER_FILL, 100),
    bandLine(band(p.outer[0], p.outer[2]), false, OUTER_FILL, 99),
    bandLine(band(p.inner[0], p.inner[1]), '+1', INNER_FILL, 98),
    bandLine(band(p.inner[0], p.inner[2]), false, INNER_FILL, 97),
    { type: 'line', data: whiskers, borderColor: '#333', borderWidth: 0.9,
      borderDash: [1.5, 1.5], pointRadius: 0, spanGaps: false, fill: false, order: 60 },
    { type: 'line', data: caps, showLine: false, pointStyle: 'line', pointRadius: 1.4,
      pointBorderWidth: 1, pointBorderColor: '#222', order: 59 },
    { type: 'bar', data: boxes, backgroundColor: BOX_FILL, borderColor: BOX_EDGE,
      borderWidth: 0.8, borderSkipped: false, barThickness: 5, order: 50 },
    { type: 'line', data: series(p.median), showLine: false, pointStyle: 'line',
      pointRadius: 2.6, pointBorderWidth: 1.6, pointBorderColor: '#000', order: 49 },
    { type: 'line', data: series(p.obs2), borderColor: '#000', borderWidth: 1,
      borderDash: [4, 3], pointRadius: 0, fill: false, order: 30 },
    { type: 'line', data: series(p.obs1), borderColor: '#000', borderWidth: 1,
      pointRadius: 0, fill: false, order: 29 },
    { type: 'line', data: series(p.histLine), borderColor: BLUE, borderWidth: 1.3,
      pointRadius: 0, fill: false, order: 20 },
    { type: 'line', data: series(p.median), borderColor: RED, borderWidth: 1.6,
      pointRadius: 0, fill: false, order: 10 }
  ];
}

// Grid, frame, score box, titles and axis annotation for one panel
function makeDecor(p) {
  return {
    id: 'panelDecor',
    beforeDatasetsDraw(chart) {
      const { ctx, chartArea: a, scales: { x, y } } = chart;
      ctx.save();
      ctx.beginPath();
      ctx.rect(a.left, a.top, a.right - a.left, a.bottom - a.top);
      ctx.clip();
      ctx.lineWidth = 1;
      ctx.strokeStyle = '#c0c0c0';
      ctx.setLineDash([2, 2]);
      ctx.beginPath();
      xTickIdx.forEach(i => {
        const px = Math.round(x.getPixelForValue(i)) + 0.5;
        ctx.moveTo(px, a.top); ctx.lineTo(px, a.bottom);
      });
      p.grid.forEach(v => {
        const py = Math.round(y.getPixelForValue(v)) + 0.5;
        ctx.moveTo(a.left, py); ctx.lineTo(a.right, py);
      });
      ctx.stroke();
      ctx.setLineDash([]);
      ctx.strokeStyle = '#9a9a9a';
      const z = Math.round(y.getPixelForValue(0)) + 0.5;
      ctx.beginPath(); ctx.moveTo(a.left, z); ctx.lineTo(a.right, z); ctx.stroke();
      ctx.restore();
    },
    afterDatasetsDraw(chart) {
      const { ctx, chartArea: a } = chart;
      ctx.save();
      ctx.font = `10.2px ${FONT}`;
      const tw = Math.max(ctx.measureText(p.dcpp).width, ctx.measureText(p.hist).width);
      const bx = Math.round(a.left + 7) + 0.5, by = Math.round(a.top + 6) + 0.5;
      const bw = Math.round(tw + 20), bh = 37;
      ctx.fillStyle = '#fff';
      ctx.fillRect(bx, by, bw, bh);
      ctx.strokeStyle = '#333';
      ctx.lineWidth = 1;
      ctx.strokeRect(bx, by, bw, bh);
      ctx.textAlign = 'left';
      ctx.textBaseline = 'middle';
      ctx.fillStyle = RED;
      ctx.fillText(p.dcpp, a.left + 25, by + 12.5);
      ctx.fillStyle = BLUE;
      ctx.fillText(p.hist, a.left + 25, by + 24.8);
      ctx.strokeStyle = '#444';
      ctx.strokeRect(Math.round(a.left) + 0.5, Math.round(a.top) + 0.5,
                     Math.round(a.right - a.left), Math.round(a.bottom - a.top));
      ctx.restore();
    },
    afterDraw(chart) {
      const { ctx, chartArea: a, scales: { x, y } } = chart;
      ctx.save();
      ctx.fillStyle = '#111';
      ctx.strokeStyle = '#444';
      ctx.lineWidth = 1;
      // panel title
      ctx.font = `bold 13.5px ${FONT}`;
      ctx.textAlign = 'center';
      ctx.textBaseline = 'middle';
      ctx.fillText(p.title, (a.left + a.right) / 2, a.top - 14);
      // x tick marks at every period
      ctx.beginPath();
      startYears.forEach((_, i) => {
        const px = Math.round(x.getPixelForValue(i)) + 0.5;
        ctx.moveTo(px, a.bottom); ctx.lineTo(px, a.bottom + 4);
      });
      // y tick marks
      p.ticks.forEach(v => {
        const py = Math.round(y.getPixelForValue(v)) + 0.5;
        ctx.moveTo(a.left - 4, py); ctx.lineTo(a.left, py);
      });
      ctx.stroke();
      // y tick labels, parallel to the axis
      ctx.font = `11.5px ${FONT}`;
      p.ticks.forEach((v, j) => {
        ctx.save();
        ctx.translate(a.left - 10, y.getPixelForValue(v));
        ctx.rotate(-Math.PI / 2);
        ctx.textAlign = 'center';
        ctx.textBaseline = 'middle';
        ctx.fillText(p.tickLabels[j], 0, 0);
        ctx.restore();
      });
      // y axis title
      ctx.save();
      ctx.font = `13.5px ${FONT}`;
      ctx.translate(a.left - 25, (a.top + a.bottom) / 2);
      ctx.rotate(-Math.PI / 2);
      ctx.textAlign = 'center';
      ctx.textBaseline = 'middle';
      ctx.fillText('Temperature (K)', 0, 0);
      ctx.restore();
      // x tick labels, slanted
      ctx.font = `11.5px ${FONT}`;
      xTickIdx.forEach((i, j) => {
        ctx.save();
        ctx.translate(x.getPixelForValue(i) + 4, a.bottom + 8);
        ctx.rotate(-Math.PI / 4);
        ctx.textAlign = 'right';
        ctx.textBaseline = 'middle';
        ctx.fillText(xTickLabels[j], 0, 0);
        ctx.restore();
      });
      ctx.restore();
    }
  };
}

panels.forEach(p => {
  new Chart(document.getElementById(p.id), {
    type: 'line',
    data: { datasets: buildDatasets(p) },
    options: {
      responsive: false,
      animation: false,
      devicePixelRatio: 1,
      events: [],
      layout: { padding: { left: 43, right: 5, top: 36, bottom: 51 } },
      scales: {
        x: { type: 'linear', display: false, min: X_MIN, max: X_MAX, offset: false },
        y: { type: 'linear', display: false, min: p.range[0], max: p.range[1] }
      },
      plugins: {
        legend: { display: false },
        tooltip: { enabled: false },
        filler: { drawTime: 'beforeDatasetsDraw' }
      }
    },
    plugins: [makeDecor(p)]
  });
});
</script>
</body>
</html>
